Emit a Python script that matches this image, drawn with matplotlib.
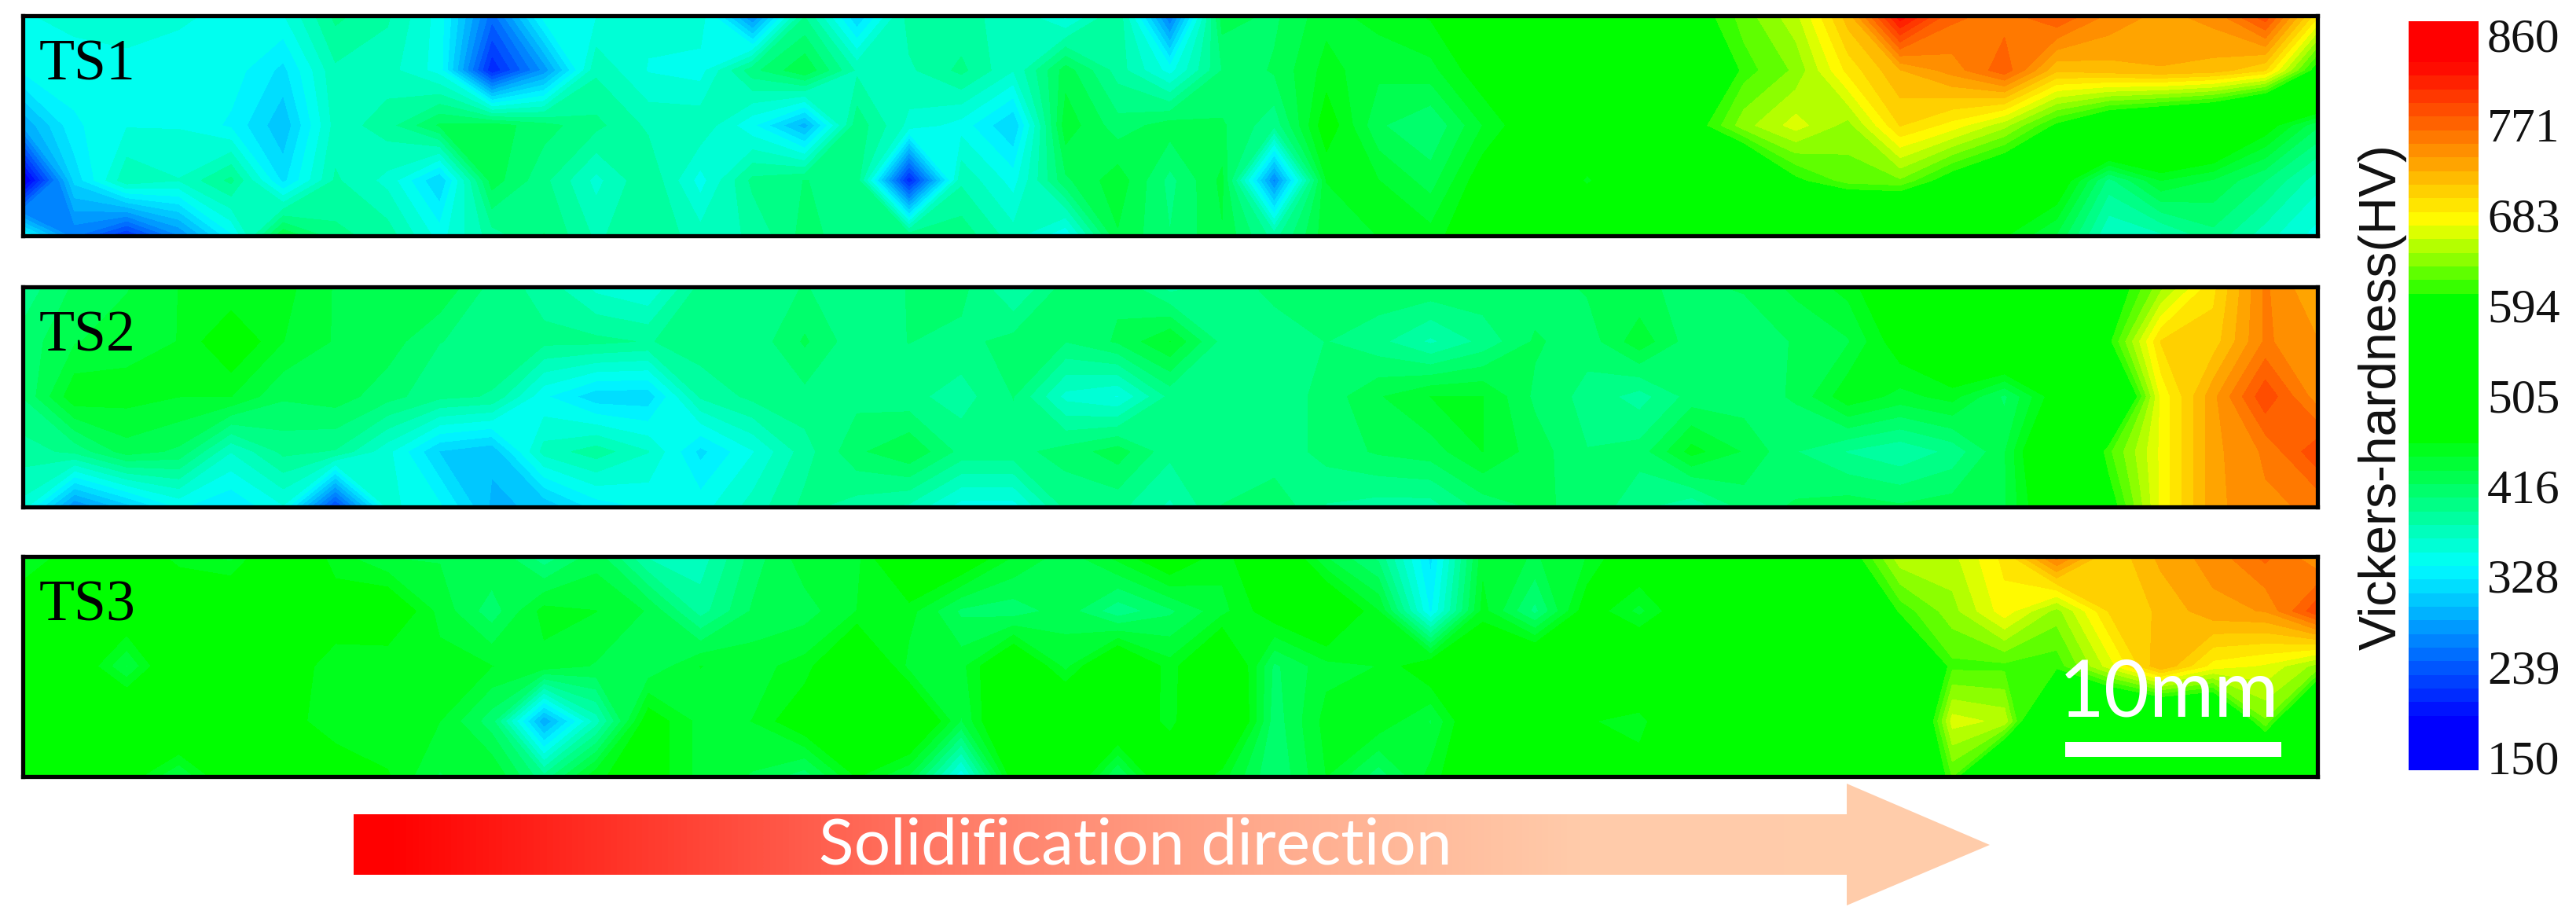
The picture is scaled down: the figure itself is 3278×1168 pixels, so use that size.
import numpy as np
import matplotlib
matplotlib.use("Agg")
import matplotlib.pyplot as plt
from matplotlib.colors import LinearSegmentedColormap, Normalize
from matplotlib.patches import Polygon, Rectangle

#Hardness, 5 rows (top to bottom) x 45 columns
ts1 = [
    [350,355,360,355,345,350,395,380,345,250,345,350,355,360,265,390,310, 385,380,375,345,390,255,425,415,440,450,460,480,490,500,500, 590,625,655,720,830,770,760,780,750,735,745,790,690],
    [340,345,345,340,345,320,375,370,345,205,275,375,350,345,400,430,375, 375,395,365,425,385,345,405,420,450,435,440,470,490,500,500, 520,612,635,690,725,745,775,715,720,725,720,700,590],
    [285,335,350,350,335,300,370,385,420,425,410,395,375,375,340,290,400, 360,345,310,440,410,425,420,395,470,420,405,445,475,490,500, 590,640,665,640,700,680,650,600,560,540,520,470,420],
    [165,315,375,365,395,320,380,360,310,425,395,360,390,345,395,405,400, 205,375,345,415,440,400,435,265,445,445,425,470,490,455,490, 500,530,600,625,630,590,560,480,400,445,430,405,370],
    [340,260,215,270,335,430,395,385,345,385,405,375,390,370,380,410,395, 400,400,370,340,430,405,430,385,440,445,450,480,490,495,495, 500,500,500,500,500,490,460,430,365,375,400,370,345],
]
ts2 = [
    [395,420,430,445,445,450,430,430,430,400,385,360,350,395,400,405,400, 405,410,375,410,415,385,395,410,415,415,415,415,410,420,420, 415,420,435,450,490,510,520,520,580,640,695,755,725],
    [410,430,440,445,475,445,430,425,405,400,395,395,390,400,395,420,395, 405,400,410,405,420,445,400,395,405,395,375,395,420,410,440, 410,405,420,430,470,500,520,520,600,700,705,755,740],
    [405,455,450,445,445,420,425,410,395,390,340,315,315,380,395,400,400, 395,385,405,360,350,395,395,395,410,430,445,445,415,400,385, 410,410,420,455,440,450,415,470,520,675,735,790,745],
    [385,395,425,415,365,395,390,355,310,300,370,385,365,320,350,385,415, 430,400,400,410,425,395,395,395,410,420,425,445,425,405,410, 450,430,405,390,380,395,430,510,615,675,735,755,790],
    [360,270,305,340,325,350,225,355,340,295,300,330,340,345,370,395,385, 375,345,345,395,395,375,405,415,390,385,385,410,420,415,395, 380,410,420,425,420,425,430,490,590,675,735,750,755],
]
ts3 = [
    [440,470,480,450,440,490,450,430,430,430,395,425,375,370,410,440,440, 500,480,445,425,450,480,450,490,430,400,320,440,430,445,480, 500,500,500,590,655,655,690,760,700,730,745,770,740],
    [480,490,480,490,490,480,470,480,440,410,450,445,430,385,420,425,445, 450,415,410,425,395,415,440,470,490,445,335,450,400,470,440, 480,500,500,500,610,640,680,640,700,715,735,740,790],
    [510,480,430,490,500,470,450,445,450,445,440,430,420,445,440,450,500, 440,440,490,440,495,450,500,415,440,445,475,490,500,520,500, 500,500,500,500,500,615,615,610,665,725,680,670,640],
    [510,480,500,500,500,465,450,445,445,410,285,370,470,440,445,475,490, 500,430,500,500,490,450,510,410,450,455,430,490,500,460,450, 500,500,500,500,500,665,655,500,500,510,520,630,500],
    [495,490,470,430,480,490,470,460,430,445,395,455,470,440,430,410,460, 430,340,470,490,415,490,450,405,445,410,450,490,490,500,470, 470,500,500,500,500,620,500,500,500,500,500,500,500],
]
panel_names = ["TS1", "TS2", "TS3"]
tick_values = [150, 239, 328, 416, 505, 594, 683, 771, 860]

W, H = 3278, 1168
vmin, vmax = 137, 873
levels = np.linspace(vmin, vmax, 56)

#Colour scale as it appears on the bar
cmap_values = [137, 185, 337, 465, 607, 610, 677, 834, 873]
cmap_colors = ["#0000ff", "#0000ff", "#00ffff", "#00ff00", "#00ff00", "#30ff00", "#ffff00", "#ff0000", "#ff0000"]
norm = Normalize(vmin, vmax)
cmap = LinearSegmentedColormap.from_list("hardness", [(float(norm(v)), c) for v, c in zip(cmap_values, cmap_colors)], N=512)

arrow_colors = [(0.0, "#ff0000"), (0.02, "#ff0000"), (0.16, "#ff3428"), (0.36, "#ff7a66"), (0.55, "#ffa98c"), (0.75, "#ffcbaa"), (1.0, "#ffcdaa")]
arrow_cmap = LinearSegmentedColormap.from_list("arrow", arrow_colors)

def px_axes(fig, x0, y0, x1, y1):
    #Axes from pixel box, y counted from the top
    return fig.add_axes([x0/W, 1-y1/H, (x1-x0)/W, (y1-y0)/H])

fig = plt.figure(figsize=(W/100, H/100), dpi=100, facecolor="white")

tops = [19.5, 364.5, 707.5]
cols = np.arange(45)
rows = np.arange(5)
for vals, name, top in zip([ts1, ts2, ts3], panel_names, tops):
    ax = px_axes(fig, 28.5, top, 2949, top+280)
    cs = ax.contourf(cols, rows, np.array(vals), levels=levels, cmap=cmap, norm=norm, antialiased=False)
    ax.set_xlim(0, 44)
    ax.set_ylim(4, 0)
    ax.set_xticks([])
    ax.set_yticks([])
    for s in ax.spines.values():
        s.set_linewidth(3.8)
        s.set_color("black")
    fig.text(50/W, 1-(top+82)/H, name, family="Liberation Serif", fontsize=53, color="black", va="baseline", ha="left")

#Colour bar
cax = px_axes(fig, 3065, 27, 3154, 980)
cb = fig.colorbar(cs, cax=cax, ticks=tick_values)
cb.outline.set_visible(False)
cax.tick_params(axis="y", length=0, pad=8)
cax.set_ylim(vmin, vmax)
cax.set_yticklabels([str(t) for t in tick_values], family="Liberation Serif", fontsize=44.5, color="#111111")
fig.text(3032/W, 1-505/H, "Vickers-hardness(HV)", rotation=90, family="Liberation Sans", fontsize=47.5,
         color="#111111", ha="center", va="center")

#Overlay in pixels for the scale bar and the arrow
ov = fig.add_axes([0, 0, 1, 1], facecolor="none")
ov.set_xlim(0, W)
ov.set_ylim(H, 0)
ov.axis("off")

ov.add_patch(Rectangle((2628, 944), 275, 19, facecolor="white", edgecolor="none"))
ov.text(2760, 912, "10mm", family="Lato", fontsize=72, color="white", ha="center", va="baseline")

arrow_xy = [(450, 1036), (2350, 1036), (2350, 997), (2532, 1075), (2350, 1152), (2350, 1113), (450, 1113)]
arrow_poly = Polygon(arrow_xy, closed=True, facecolor="none", edgecolor="none")
ov.add_patch(arrow_poly)
grad = ov.imshow(np.linspace(0, 1, 512).reshape(1, -1), extent=(450, 2532, 1152, 997), cmap=arrow_cmap,
                 aspect="auto", interpolation="bilinear")
grad.set_clip_path(arrow_poly)
ov.set_xlim(0, W)
ov.set_ylim(H, 0)
ov.text(1445, 1100, "Solidification direction", family="Lato", fontsize=59, color="white", ha="center", va="baseline")

fig.savefig("out.png", dpi=100)
